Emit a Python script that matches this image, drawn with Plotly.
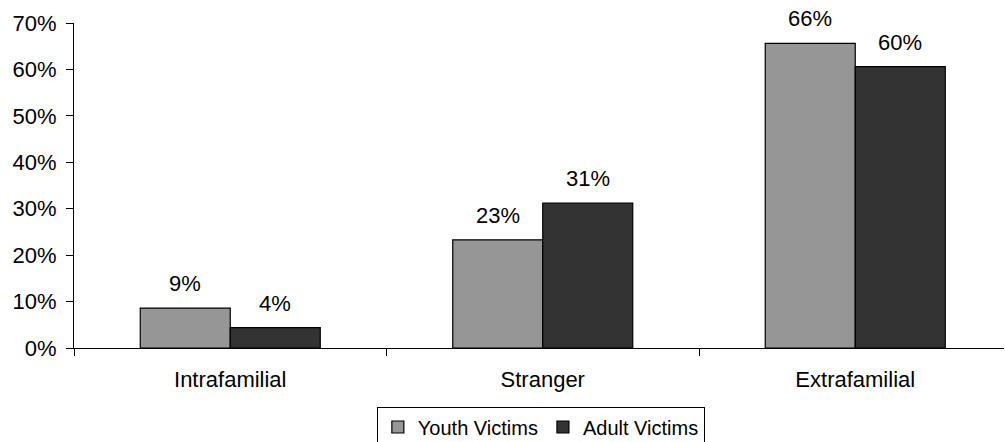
import plotly.graph_objects as go

categories = ["Intrafamilial", "Stranger", "Extrafamilial"]
youth = [0.086, 0.233, 0.656]
adult = [0.044, 0.312, 0.606]
youth_labels = ["9%", "23%", "66%"]
adult_labels = ["4%", "31%", "60%"]
y_ticks = [0, 0.1, 0.2, 0.3, 0.4, 0.5, 0.6, 0.7]
y_tick_labels = ["0%", "10%", "20%", "30%", "40%", "50%", "60%", "70%"]

FONT = "Liberation Sans, Arial, sans-serif"

fig = go.Figure()
fig.add_trace(go.Bar(name="Youth Victims", x=categories, y=youth,
                     marker=dict(color="#969696", line=dict(color="#000000", width=1.2))))
fig.add_trace(go.Bar(name="Adult Victims", x=categories, y=adult,
                     marker=dict(color="#333333", line=dict(color="#000000", width=1.2))))

for cat, v, lab in zip(categories, youth, youth_labels):
    fig.add_annotation(x=cat, y=v, text=lab, showarrow=False, xshift=-45, yshift=10,
                       yanchor="bottom", font=dict(size=22, color="#000000", family=FONT))
for cat, v, lab in zip(categories, adult, adult_labels):
    fig.add_annotation(x=cat, y=v, text=lab, showarrow=False, xshift=45, yshift=10,
                       yanchor="bottom", font=dict(size=22, color="#000000", family=FONT))

fig.update_layout(
    width=1005, height=442,
    margin=dict(l=74, r=1, t=23, b=94, autoexpand=False),
    paper_bgcolor="white", plot_bgcolor="white",
    barmode="group", bargap=0.424, bargroupgap=0,
    font=dict(family=FONT, size=22, color="#000000"),
    showlegend=True,
    legend=dict(orientation="h", x=0.502, xanchor="center", y=-0.18, yanchor="top",
                bordercolor="#000000", borderwidth=1, bgcolor="white",
                font=dict(size=20, family=FONT), traceorder="normal"),
    xaxis=dict(range=[-0.5, 2.476], showline=True, linecolor="#000000", linewidth=1,
               ticks="outside", tickson="boundaries", ticklen=7, tickcolor="#000000",
               ticklabelstandoff=12,
               showgrid=False, tickfont=dict(size=22, family=FONT)),
    yaxis=dict(range=[0, 0.7], tickvals=y_ticks, ticktext=y_tick_labels,
               showline=True, linecolor="#000000", linewidth=1,
               ticks="outside", ticklen=7, tickcolor="#000000",
               ticklabelstandoff=5,
               showgrid=False, zeroline=False, tickfont=dict(size=22, family=FONT)),
)

fig.write_html("out.html")
